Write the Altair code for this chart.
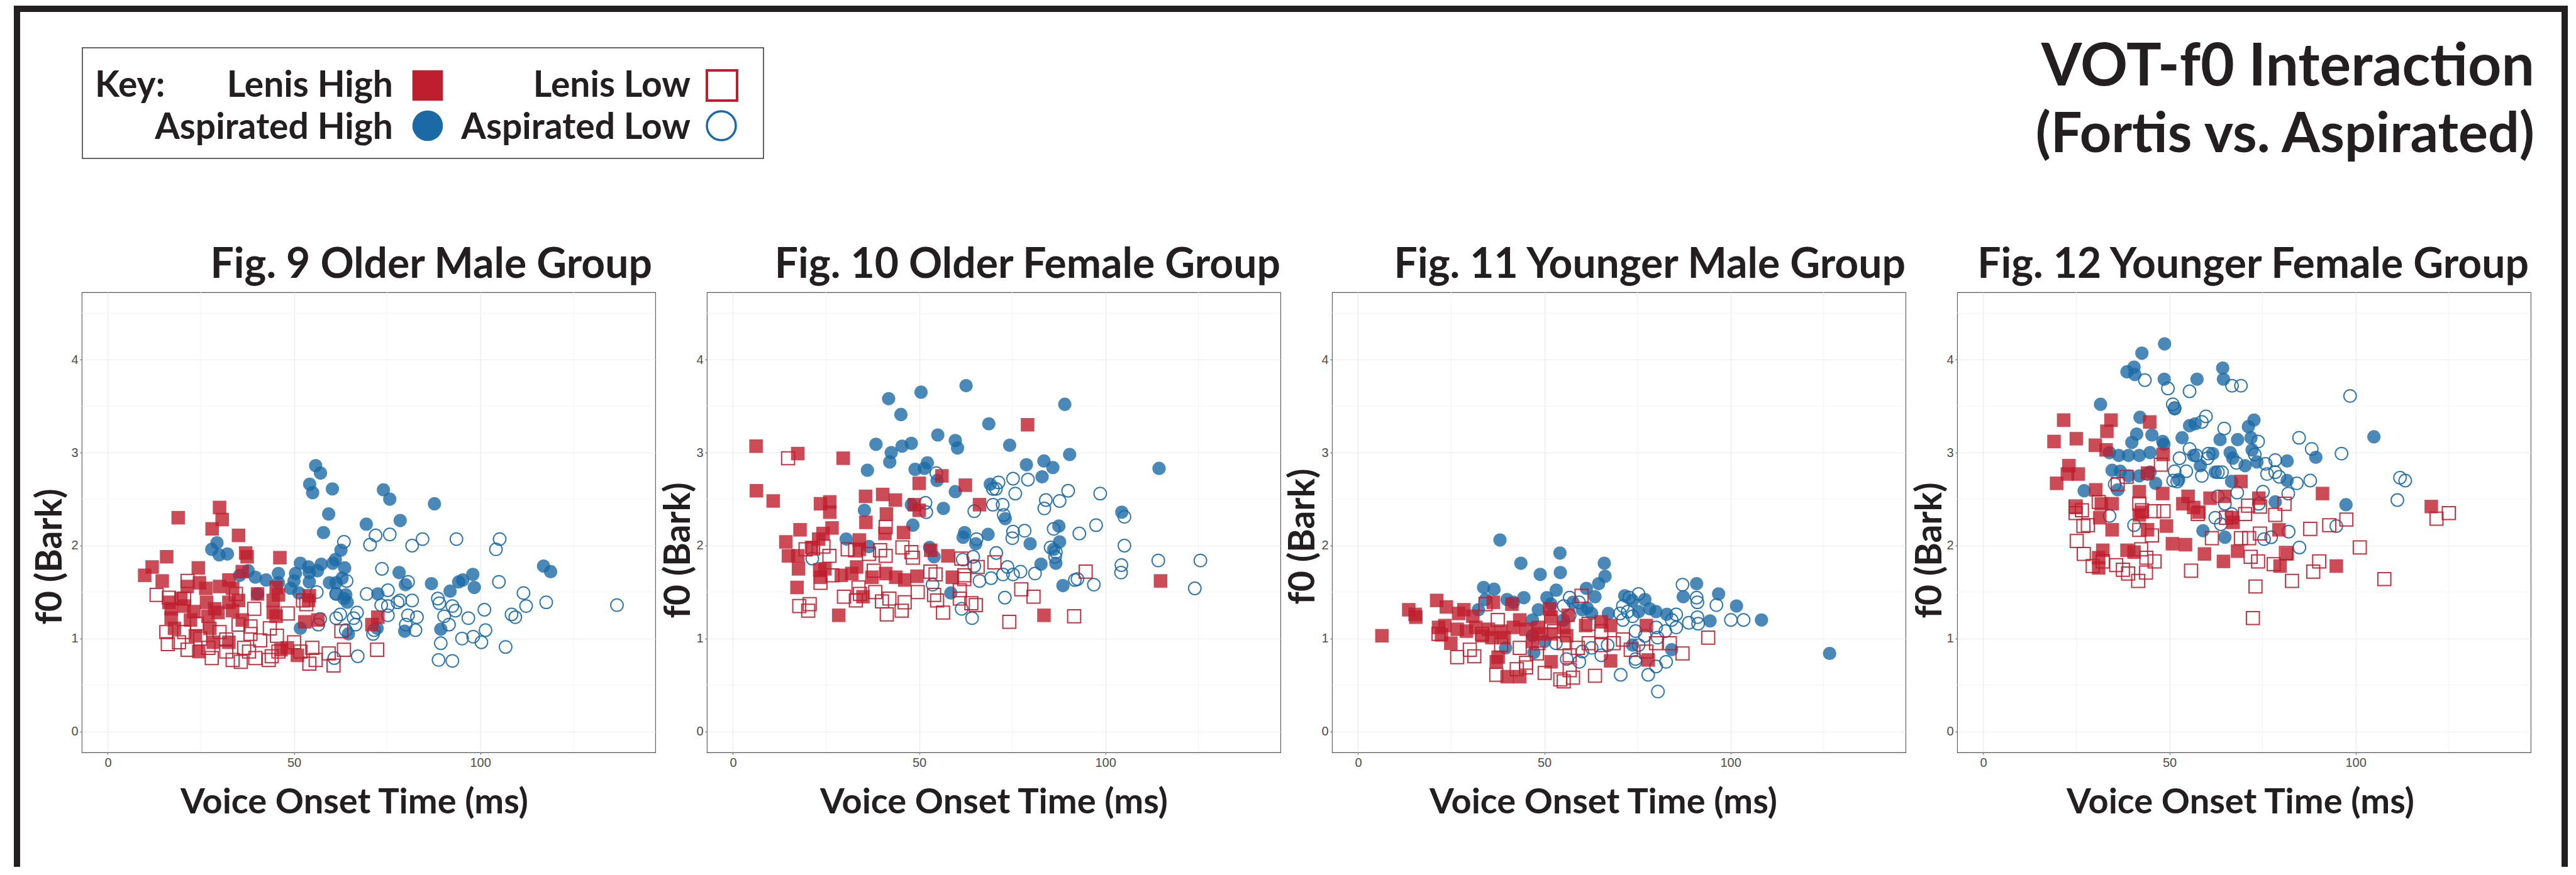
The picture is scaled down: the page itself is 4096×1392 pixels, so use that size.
import altair as alt
import pandas as pd

# ---------------- data: (VOT ms, f0 Bark) ----------------
# Fig. 9 Older Male Group
OM_ASP_HIGH = [(55.8,2.86),(57.1,2.78),(54.2,2.66),(55.0,2.57),(60.3,2.61),(74.0,2.60),(75.7,2.50),(87.7,2.45),(59.3,2.34),(78.5,2.27),(69.4,2.23),(57.9,2.14),(29.3,2.03),(27.9,1.96),(29.9,1.90),(32.1,1.91),(62.6,1.95),(61.1,1.85),(51.7,1.81),(53.9,1.77),(57.3,1.80),(60.4,1.81),(63.6,1.76),(56.3,1.73),(54.1,1.71),(50.4,1.70),(37.7,1.73),(39.6,1.66),(42.5,1.63),(45.8,1.70),(50.0,1.62),(54.1,1.61),(59.5,1.60),(61.3,1.60),(62.9,1.65),(45.8,1.60),(49.1,1.54),(51.3,1.49),(61.3,1.48),(63.9,1.47),(64.3,1.39),(63.4,1.43),(51.7,1.11),(64.6,1.05),(72.3,1.11),(72.5,1.48),(78.2,1.71),(79.9,1.58),(86.9,1.59),(91.9,1.51),(94.2,1.61),(95.3,1.63),(98.0,1.69),(98.4,1.55),(117.0,1.78),(118.9,1.72),(79.7,1.08),(89.4,1.10),(40.2,1.48),(35.4,1.68)]
OM_ASP_LOW = [(63.4,2.04),(71.9,2.11),(75.7,2.12),(70.4,2.01),(81.7,2.00),(84.5,2.07),(93.6,2.07),(105.2,2.07),(104.2,1.96),(73.6,1.75),(64.1,1.62),(80.6,1.61),(105.0,1.61),(111.6,1.49),(117.7,1.39),(136.7,1.36),(112.3,1.35),(108.4,1.26),(109.4,1.23),(101.1,1.31),(96.8,1.22),(93.3,1.30),(92.5,1.35),(88.6,1.43),(89.0,1.38),(90.3,1.24),(91.6,1.15),(101.4,1.09),(98.1,1.02),(95.1,1.00),(100.3,0.96),(106.8,0.91),(89.4,0.95),(88.8,0.77),(92.5,0.76),(81.7,1.41),(78.5,1.41),(75.2,1.52),(69.5,1.48),(73.4,1.36),(75.2,1.35),(77.8,1.39),(80.6,1.25),(83.0,1.23),(75.2,1.25),(80.0,1.15),(82.6,1.09),(71.5,1.09),(71.2,1.05),(66.9,1.28),(66.0,1.22),(62.4,1.26),(61.3,1.22),(57.0,1.21),(56.1,1.50),(61.3,1.48),(67.1,0.81),(60.8,0.79),(63.9,1.09),(66.5,1.15),(56.5,1.15)]
OM_LEN_HIGH = [(30.0,2.41),(30.7,2.28),(18.9,2.30),(28.0,2.18),(35.1,2.11),(37.0,1.92),(37.4,1.88),(46.2,1.87),(15.8,1.88),(11.9,1.77),(9.9,1.68),(14.6,1.62),(24.3,1.76),(36.1,1.72),(32.5,1.63),(24.6,1.60),(26.3,1.54),(21.3,1.56),(30.0,1.56),(33.5,1.54),(45.2,1.55),(40.2,1.48),(45.8,1.47),(54.1,1.46),(53.9,1.41),(44.4,1.41),(35.1,1.41),(32.5,1.39),(16.4,1.39),(17.0,1.32),(20.5,1.35),(23.1,1.29),(28.7,1.32),(29.6,1.28),(33.5,1.30),(44.4,1.28),(17.0,1.22),(22.2,1.20),(26.9,1.24),(36.1,1.20),(45.2,1.24),(52.9,1.18),(56.4,1.20),(72.5,1.23),(70.9,1.15),(17.9,1.11),(27.4,1.11),(24.4,0.86),(32.5,0.96),(46.5,0.88),(50.9,0.82),(23.5,1.03),(28.3,0.96),(48.2,0.90),(19.6,1.43),(26.5,1.39)]
OM_LEN_LOW = [(13.1,1.47),(21.4,1.62),(16.4,1.44),(20.5,1.43),(15.7,1.07),(16.1,0.94),(19.1,0.96),(20.5,1.07),(24.8,1.00),(27.9,0.79),(31.8,0.99),(33.5,0.77),(35.7,0.75),(39.6,0.79),(38.3,1.13),(38.3,1.05),(40.9,0.98),(43.5,1.11),(45.4,1.03),(50.0,0.96),(44.0,0.81),(45.8,0.86),(54.9,0.90),(54.1,0.73),(55.8,0.77),(59.3,0.84),(60.6,0.71),(63.4,0.88),(72.3,0.88),(62.7,1.08),(52.4,1.41),(53.3,1.37),(48.3,1.27),(39.3,1.32),(35.1,1.15),(30.0,1.07),(34.4,1.48),(21.4,0.88),(27.0,0.90),(31.8,0.86),(36.6,0.90),(51.7,0.86),(23.9,1.16),(37.9,0.86),(43.2,0.77)]

# Fig. 10 Older Female Group
OF_ASP_HIGH = [(62.6,3.72),(50.5,3.65),(41.8,3.58),(45.1,3.41),(89.1,3.52),(68.7,3.31),(55.0,3.19),(59.7,3.13),(60.3,3.05),(74.3,3.08),(38.4,3.09),(45.4,3.07),(47.9,3.10),(42.5,3.00),(42.1,2.90),(36.1,2.81),(48.9,2.82),(52.2,2.89),(51.4,2.83),(54.8,2.70),(90.4,2.98),(78.8,2.87),(83.5,2.91),(85.9,2.84),(83.0,2.74),(69.1,2.66),(114.4,2.83),(59.7,2.58),(47.9,2.44),(56.5,2.40),(35.3,2.38),(48.3,2.22),(30.4,2.07),(36.5,1.99),(62.2,2.14),(61.8,2.09),(68.5,2.12),(65.2,2.02),(79.8,2.02),(87.5,2.21),(87.7,2.04),(86.7,1.81),(82.7,1.80),(73.1,2.29),(104.4,2.36),(88.6,1.57),(58.5,1.49),(52.8,1.98),(54.0,1.88),(86.1,1.96)]
OF_ASP_LOW = [(54.6,2.78),(71.3,2.68),(75.2,2.72),(79.2,2.71),(69.8,2.61),(70.6,2.61),(75.8,2.56),(90.0,2.59),(98.6,2.56),(84.0,2.49),(87.7,2.48),(83.6,2.40),(69.8,2.44),(72.4,2.44),(64.8,2.37),(51.7,2.46),(51.9,2.36),(72.7,2.33),(105.1,2.31),(86.1,2.18),(93.0,2.13),(97.5,2.22),(75.2,2.15),(78.3,2.16),(75.0,2.08),(65.4,2.07),(105.1,2.00),(85.3,1.98),(86.7,1.93),(86.5,1.88),(104.3,1.79),(104.2,1.71),(114.2,1.84),(125.5,1.84),(124.0,1.54),(96.9,1.58),(91.8,1.63),(92.5,1.64),(81.1,1.70),(77.2,1.72),(75.2,1.69),(72.5,1.69),(73.7,1.77),(69.3,1.65),(66.2,1.62),(70.7,1.92),(64.8,1.78),(61.7,1.85),(64.5,1.88),(73.0,1.44),(61.4,1.32),(64.2,1.22),(53.6,1.58),(21.3,1.86)]
OF_LEN_HIGH = [(6.2,3.07),(17.4,2.99),(29.6,2.94),(79.1,3.30),(6.3,2.59),(10.8,2.48),(56.1,2.75),(50.0,2.67),(62.4,2.65),(66.2,2.44),(35.6,2.53),(40.2,2.55),(43.6,2.49),(23.5,2.45),(26.0,2.47),(26.0,2.36),(48.7,2.44),(50.0,2.38),(41.2,2.34),(35.7,2.25),(18.0,2.17),(26.6,2.19),(24.2,2.13),(23.0,2.07),(14.2,2.04),(33.9,2.06),(40.8,2.13),(45.8,2.14),(21.1,1.98),(33.9,1.96),(14.9,1.89),(17.4,1.89),(17.6,1.75),(24.7,1.75),(33.2,1.77),(29.1,1.68),(31.9,1.70),(41.0,1.70),(43.7,1.66),(46.1,1.63),(49.4,1.67),(53.1,1.95),(57.7,1.89),(58.9,1.66),(17.2,1.55),(23.5,1.66),(37.3,1.66),(34.9,1.45),(28.4,1.25),(83.5,1.25),(114.8,1.62),(23.3,1.74)]
OF_LEN_LOW = [(14.8,2.94),(41.0,2.20),(45.5,1.98),(47.9,1.93),(48.3,1.87),(21.5,1.97),(24.3,1.99),(25.9,1.89),(30.8,1.96),(32.8,1.95),(36.5,1.91),(39.5,1.95),(41.0,1.89),(37.8,1.73),(23.5,1.60),(33.7,1.55),(34.1,1.48),(38.2,1.50),(29.8,1.45),(33.0,1.41),(17.8,1.35),(20.6,1.37),(20.2,1.30),(40.0,1.40),(42.0,1.43),(46.1,1.39),(45.3,1.30),(41.3,1.26),(49.6,1.50),(53.0,1.72),(54.4,1.69),(54.0,1.47),(54.8,1.41),(56.4,1.28),(60.9,1.52),(60.9,1.43),(62.1,1.68),(62.1,1.64),(61.3,1.86),(65.7,1.77),(70.2,1.82),(64.0,1.38),(65.2,1.36),(77.4,1.53),(80.7,1.45),(74.2,1.18),(91.6,1.24),(94.7,1.72),(19.5,1.96),(26.7,1.68)]

# Fig. 11 Younger Male Group
YM_ASP_HIGH = [(38.1,2.06),(54.2,1.92),(43.7,1.81),(66.1,1.81),(48.9,1.69),(54.3,1.71),(66.3,1.67),(64.6,1.59),(33.7,1.55),(36.5,1.53),(53.2,1.52),(61.3,1.54),(44.5,1.44),(50.7,1.44),(40.0,1.42),(63.6,1.45),(71.6,1.46),(90.9,1.59),(87.3,1.45),(96.8,1.48),(101.6,1.35),(108.3,1.20),(94.5,1.19),(32.3,1.31),(34.2,1.42),(41.7,1.39),(48.4,1.31),(51.8,1.37),(57.7,1.39),(61.5,1.33),(62.7,1.27),(67.2,1.27),(73.7,1.41),(77.0,1.42),(78.3,1.32),(80.0,1.29),(82.9,1.26),(75.3,1.29),(126.6,0.84),(39.6,0.90),(47.2,0.85),(50.1,0.97),(73.7,0.93),(84.2,0.88),(46.8,1.03),(46.8,1.20),(55.2,1.20),(60.2,1.31)]
YM_ASP_LOW = [(87.1,1.58),(90.9,1.44),(91.1,1.39),(96.2,1.36),(100.1,1.20),(103.5,1.20),(91.1,1.23),(88.8,1.17),(91.3,1.16),(85.4,1.26),(85.4,1.12),(82.5,1.08),(80.0,1.12),(75.3,1.48),(72.8,1.44),(71.1,1.35),(70.3,1.27),(72.4,1.29),(73.7,1.24),(71.1,1.20),(56.8,1.44),(59.3,1.39),(55.2,1.35),(56.8,1.25),(74.5,1.08),(77.0,1.03),(80.4,1.01),(75.3,0.93),(62.7,0.90),(65.3,0.82),(67.0,0.93),(74.5,0.78),(74.5,0.75),(80.0,0.70),(82.7,0.75),(77.9,0.61),(70.5,0.61),(80.5,0.43),(56.0,0.78),(60.2,0.86),(53.1,0.95),(84.2,1.20),(59.4,0.75)]
YM_LEN_HIGH = [(6.4,1.03),(13.6,1.31),(15.3,1.26),(15.5,1.23),(21.1,1.41),(23.7,1.34),(28.4,1.31),(27.0,1.27),(36.3,1.39),(41.3,1.37),(51.4,1.32),(56.4,1.25),(51.8,1.23),(21.6,1.12),(23.3,1.14),(26.6,1.10),(29.1,1.08),(31.6,1.12),(35.0,1.10),(38.4,1.08),(41.7,1.12),(45.1,1.10),(48.4,1.12),(51.8,1.05),(55.2,1.12),(22.4,1.04),(24.9,0.95),(33.3,1.03),(39.2,1.01),(46.8,0.97),(65.3,1.18),(67.8,1.14),(61.1,1.14),(77.4,1.14),(67.8,0.76),(77.9,0.77),(37.1,0.75),(40.0,0.59),(43.4,0.59),(51.8,0.75),(37.6,0.80),(56.0,1.03),(30.8,1.24),(43.4,1.20),(35.9,1.01),(48.4,1.05)]
YM_LEN_LOW = [(60.0,1.46),(34.2,1.37),(21.6,1.05),(26.6,0.80),(31.2,0.81),(30.0,0.88),(37.1,0.61),(42.6,0.67),(45.1,0.69),(50.1,0.63),(54.3,0.56),(55.2,0.54),(57.7,0.58),(63.6,0.60),(56.8,0.66),(48.0,0.84),(48.4,0.95),(43.4,0.90),(38.4,0.93),(55.2,0.95),(59.0,0.90),(61.9,0.95),(65.3,0.93),(68.6,0.95),(71.1,0.99),(73.2,0.88),(80.0,0.95),(83.7,0.95),(87.1,0.84),(94.0,1.01),(77.4,0.86),(61.9,1.16),(65.3,1.08),(37.5,1.20),(51.8,1.18),(56.8,0.82),(45.1,0.74),(52.6,1.08),(33.3,1.05)]

# Fig. 12 Younger Female Group
YF_ASP_HIGH = [(48.7,4.17),(42.6,4.07),(40.5,3.92),(38.6,3.87),(40.7,3.84),(48.6,3.79),(57.4,3.79),(64.3,3.91),(64.5,3.79),(31.5,3.52),(42.1,3.38),(51.4,3.47),(55.4,3.29),(56.9,3.31),(72.7,3.35),(71.2,3.28),(41.2,3.20),(45.3,3.19),(39.9,3.11),(48.2,3.12),(53.4,3.16),(63.6,3.14),(68.3,3.14),(71.9,3.16),(104.9,3.17),(33.9,3.00),(36.4,2.97),(39.0,2.97),(41.9,2.97),(44.8,3.00),(48.5,3.09),(72.2,3.03),(66.3,3.00),(67.0,2.94),(70.3,2.86),(73.5,2.90),(81.6,2.91),(89.3,2.95),(61.6,2.99),(58.3,2.86),(34.6,2.81),(36.8,2.80),(39.0,2.75),(41.9,2.75),(46.3,2.67),(52.5,2.71),(62.3,2.79),(66.7,2.69),(81.6,2.70),(27.1,2.59),(36.1,2.60),(97.4,2.44),(78.4,2.47),(59.0,2.16),(64.9,2.09),(44.8,2.79),(56.5,2.97)]
YF_ASP_LOW = [(43.4,3.78),(49.6,3.69),(55.4,3.66),(66.8,3.72),(69.2,3.72),(98.5,3.61),(50.9,3.52),(51.4,3.48),(59.8,3.39),(58.7,3.33),(64.7,3.26),(84.8,3.16),(73.8,3.12),(88.2,3.04),(96.2,2.99),(55.4,3.04),(52.7,2.94),(57.2,2.97),(60.5,2.99),(60.2,2.94),(72.9,2.98),(78.4,2.92),(75.8,2.88),(76.2,2.77),(78.4,2.79),(79.5,2.74),(84.2,2.67),(87.8,2.70),(54.5,2.80),(51.4,2.80),(58.7,2.75),(63.0,2.79),(64.1,2.79),(52.1,2.69),(51.0,2.70),(68.0,2.89),(68.2,2.57),(75.1,2.58),(81.9,2.56),(111.9,2.73),(113.3,2.70),(111.2,2.49),(63.0,2.53),(64.9,2.45),(94.8,2.21),(82.0,2.15),(84.9,1.98),(77.3,2.09),(75.4,2.07),(40.5,2.22),(33.9,2.32),(63.8,2.23),(62.3,2.30),(66.7,2.34),(74.0,2.45),(44.1,2.77),(35.3,2.66)]
YF_LEN_HIGH = [(21.6,3.35),(34.3,3.35),(33.2,3.23),(44.7,3.33),(19.0,3.12),(25.0,3.15),(30.1,3.08),(33.0,3.03),(48.3,2.98),(23.0,2.86),(25.5,2.77),(22.6,2.77),(19.7,2.67),(30.2,2.60),(44.1,2.78),(41.9,2.58),(69.2,2.69),(48.2,2.56),(55.0,2.53),(60.9,2.51),(64.8,2.53),(74.0,2.51),(91.1,2.56),(120.3,2.42),(31.7,2.45),(34.6,2.45),(24.7,2.41),(31.3,2.30),(34.6,2.17),(42.6,2.36),(53.6,2.45),(56.5,2.41),(57.9,2.36),(49.2,2.21),(50.8,2.02),(54.3,2.01),(59.4,1.91),(64.5,1.83),(68.3,1.94),(79.4,2.17),(81.6,1.91),(94.8,1.78),(79.7,1.78),(32.1,1.95),(31.0,1.87),(31.0,1.76),(38.6,1.95),(40.5,1.93),(44.1,2.17),(66.7,2.30),(67.1,2.25),(41.9,2.33)]
YF_LEN_LOW = [(47.7,2.87),(38.5,2.74),(36.1,2.66),(24.8,2.42),(26.5,2.38),(24.8,2.35),(31.0,2.47),(41.9,2.45),(42.6,2.38),(45.9,2.37),(48.4,2.37),(26.9,2.21),(28.1,2.22),(25.1,2.05),(27.0,1.91),(29.4,1.78),(32.1,1.83),(35.7,1.79),(37.5,1.74),(38.9,1.70),(41.6,1.62),(43.7,1.71),(46.0,1.83),(43.8,1.87),(42.4,1.96),(41.9,2.17),(45.3,2.11),(55.8,1.73),(57.6,2.34),(61.4,2.08),(65.2,2.30),(70.3,2.34),(69.2,2.08),(71.4,2.08),(74.3,2.13),(78.4,2.33),(80.9,2.45),(74.3,2.42),(71.1,2.43),(71.8,1.88),(73.8,1.83),(78.0,1.80),(81.3,1.92),(87.8,2.18),(92.9,2.22),(97.5,2.28),(101.1,1.98),(90.2,1.83),(88.6,1.72),(82.9,1.62),(107.7,1.64),(73.1,1.56),(72.4,1.22),(121.7,2.29),(125.0,2.35)]

PANEL_TITLES = ["Fig. 9 Older Male Group", "Fig. 10 Older Female Group",
                "Fig. 11 Younger Male Group", "Fig. 12 Younger Female Group"]
X_TICKS = [0, 50, 100]
X_MINOR = [25, 75, 125]
Y_TICKS = [0, 1, 2, 3, 4]
Y_MINOR = [0.5, 1.5, 2.5, 3.5, 4.5]
X_DOMAIN = [-7, 147]
Y_DOMAIN = [-0.225, 4.725]
KEY_LABELS = ["Lenis High", "Lenis Low", "Aspirated High", "Aspirated Low"]
MAIN_TITLE = ["VOT-f0 Interaction", "(Fortis vs. Aspirated)"]

# ---------------- style ----------------
RED = "#BE1E2D"
BLUE = "#1C6AA5"
INK = "#231F20"
FONT = "Lato"
W, H = 912, 732
ONE = pd.DataFrame({"k": [0]})


def text(label, x, y, size, align="left", angle=0):
    return alt.Chart(ONE).mark_text(
        text=label, font=FONT, fontWeight="bold", fontSize=size, color=INK,
        align=align, baseline="alphabetic", angle=angle,
    ).encode(x=alt.value(x), y=alt.value(y))


def rect(x1, x2, y1, y2, **kw):
    return alt.Chart(ONE).mark_rect(**kw).encode(
        x=alt.value(x1), x2=alt.value(x2), y=alt.value(y1), y2=alt.value(y2))


def symbol(x, y, shape, filled, size, color, sw=None):
    kw = dict(shape=shape, filled=filled, size=size, color=color, opacity=1)
    if sw is not None:
        kw["strokeWidth"] = sw
    return alt.Chart(ONE).mark_point(**kw).encode(x=alt.value(x), y=alt.value(y))


def panel(ah, al, lh, ll, title, title_dx, ytx, yty, xtx, extra=()):
    rows = []
    for cat, pairs in (("AH", ah), ("AL", al), ("LH", lh), ("LL", ll)):
        rows += [{"cat": cat, "vot": v, "f0": f} for v, f in pairs]
    df = pd.DataFrame(rows)

    xenc = alt.X("vot:Q", scale=alt.Scale(domain=X_DOMAIN, nice=False, zero=False),
                 axis=alt.Axis(values=X_TICKS, title="Voice Onset Time (ms)",
                               titleX=xtx, titleY=96, titleAlign="center",
                               titleBaseline="alphabetic", titleFontSize=56,
                               labelFlush=False))
    yenc = alt.Y("f0:Q", scale=alt.Scale(domain=Y_DOMAIN, nice=False, zero=False),
                 axis=alt.Axis(values=Y_TICKS, title="f0 (Bark)",
                               titleX=ytx, titleY=yty, titleAngle=270,
                               titleAlign="center", titleBaseline="alphabetic",
                               titleFontSize=57, labelFlush=False))

    gx = alt.Chart(pd.DataFrame({"vot": X_MINOR})).mark_rule(
        color="#F2F2F2", strokeWidth=0.9).encode(x=xenc)
    gy = alt.Chart(pd.DataFrame({"f0": Y_MINOR})).mark_rule(
        color="#F2F2F2", strokeWidth=0.9).encode(y=yenc)

    base = alt.Chart(df)
    l_ah = base.transform_filter(alt.datum.cat == "AH").mark_point(
        shape="circle", filled=True, size=450, color=BLUE, opacity=0.8).encode(x=xenc, y=yenc)
    l_al = base.transform_filter(alt.datum.cat == "AL").mark_point(
        shape="circle", filled=False, size=395, color=BLUE, strokeWidth=2,
        opacity=0.9).encode(x=xenc, y=yenc)
    l_lh = base.transform_filter(alt.datum.cat == "LH").mark_point(
        shape="square", filled=True, size=462, color=RED, opacity=0.8).encode(x=xenc, y=yenc)
    l_ll = base.transform_filter(alt.datum.cat == "LL").mark_point(
        shape="square", filled=False, size=425, color=RED, strokeWidth=2,
        opacity=0.9).encode(x=xenc, y=yenc)

    ttl = text(title, W - title_dx, -23, 66, align="right")
    layers = [gx, gy, l_ah, l_al, l_lh, l_ll, ttl] + list(extra)
    return alt.layer(*layers).properties(width=W, height=H)


# ---- decorations positioned relative to the first panel's plot area ----
frame = [
    rect(-108, -98, -456, 914, color=INK),
    rect(-108, 3953, -456, -446, color=INK),
    rect(3943, 3953, -456, 914, color=INK),
]
key = [
    rect(1, 1084, -389, -213, fill="white", stroke="#333333", strokeWidth=1.5),
    text("Key:", 21, -311, 57),
    text(KEY_LABELS[0], 495, -311, 57, align="right"),
    symbol(550, -329, "square", True, 2362, RED),
    text(KEY_LABELS[1], 968, -311, 57, align="right"),
    symbol(1018, -329, "square", False, 2304, RED, sw=4),
    text(KEY_LABELS[2], 495, -244, 57, align="right"),
    symbol(550, -265, "circle", True, 2362, BLUE),
    text(KEY_LABELS[3], 968, -244, 57, align="right"),
    symbol(1017, -265, "circle", False, 2116, BLUE, sw=3.5),
]
main_title = [
    text(MAIN_TITLE[0], 3900, -329, 93, align="right"),
    text(MAIN_TITLE[1], 3900, -223, 88, align="right"),
]

p1 = panel(OM_ASP_HIGH, OM_ASP_LOW, OM_LEN_HIGH, OM_LEN_LOW, PANEL_TITLES[0], 5, -33, 420, 433,
           extra=frame + key + main_title)
p2 = panel(OF_ASP_HIGH, OF_ASP_LOW, OF_LEN_HIGH, OF_LEN_LOW, PANEL_TITLES[1], 0, -28, 410, 456)
p3 = panel(YM_ASP_HIGH, YM_ASP_LOW, YM_LEN_HIGH, YM_LEN_LOW, PANEL_TITLES[2], 0, -29, 388, 431)
p4 = panel(YF_ASP_HIGH, YF_ASP_LOW, YF_LEN_HIGH, YF_LEN_LOW, PANEL_TITLES[3], 3, -26, 410, 450)

chart = alt.hconcat(p1, p2, p3, p4, spacing=82, bounds="flush").properties(
    padding={"left": 13, "top": 0, "right": 0, "bottom": 0},
    background="white",
).configure_view(
    stroke="#555555", strokeWidth=1.1,
).configure_axis(
    domain=False, grid=True, gridColor="#EBEBEB", gridWidth=1.2,
    labelFont="Liberation Sans", labelFontSize=20, labelColor="#4D4D4D",
    labelPadding=3, tickColor="#4D4D4D", tickSize=3, tickWidth=1,
    titleFont=FONT, titleFontWeight="bold", titleColor=INK,
)

chart.save("out.html", embed_options={"renderer": "svg", "actions": False})
